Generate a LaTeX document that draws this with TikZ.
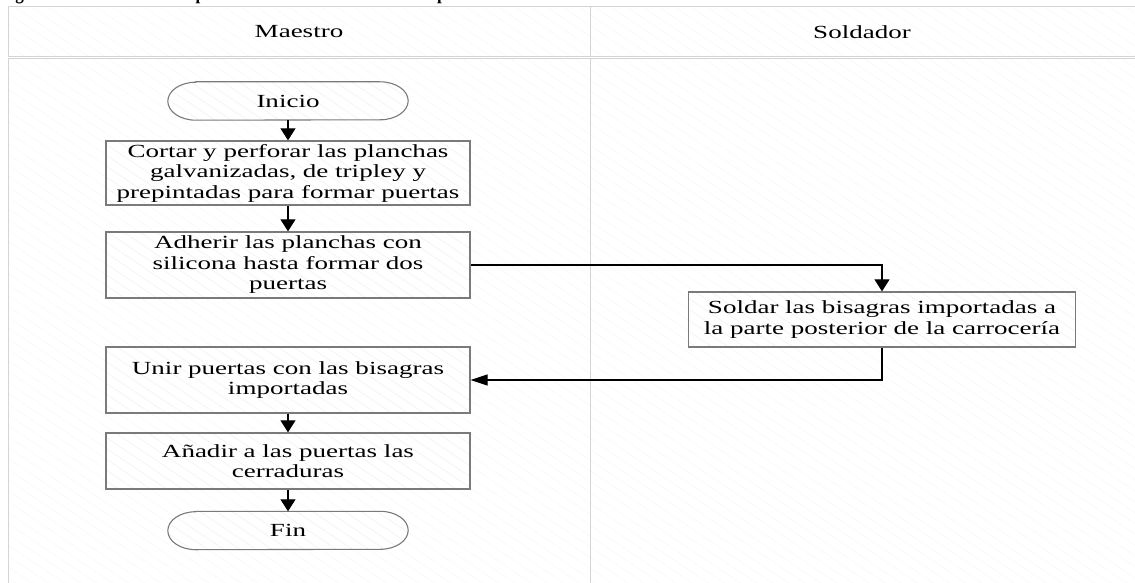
\documentclass[tikz,border=0pt]{standalone}
\usepackage{fontspec}
\setmainfont{Liberation Serif}[FakeStretch=1.46]
\newfontfamily\titlefont{Liberation Serif}[FakeStretch=0.85]
\usetikzlibrary{arrows.meta,patterns.meta,positioning}

\definecolor{laneline}{HTML}{D4D4D4}
\definecolor{boxline}{HTML}{7A7A7A}

\tikzset{
  hatch/.style={pattern={Lines[angle=-34,distance=9pt,line width=0.5pt]}, pattern color=#1},
  lane/.style={draw=laneline, line width=1pt, hatch=black!3},
  lanetitle/.style={inner sep=0pt, font=\fontsize{18.5}{20.5}\selectfont},
  stepbox/.style={draw=boxline, line width=1.3pt, preaction={fill=white}, hatch=black!6,
    minimum width=364pt, align=center, inner sep=0pt,
    font=\fontsize{18.5}{20.5}\selectfont},
  term/.style={minimum width=240pt, minimum height=38pt, inner sep=0pt,
    font=\fontsize{18.5}{20.5}\selectfont},
  termline/.style={draw=boxline, line width=1.1pt, preaction={fill=white}, hatch=black!6},
  conn/.style={draw=black, line width=1.1pt},
  varrow/.style={-{Triangle[width=15pt,length=12pt]}},
  harrow/.style={-{Triangle[width=11pt,length=17pt]}},
}

% rounded terminator outline around a named node
\newcommand{\terminator}[1]{%
  \path[termline] ([xshift=28pt]#1.north west) -- ([xshift=-28pt]#1.north east)
    arc[start angle=-90,end angle=90,x radius=28,y radius=19]
    -- ([xshift=28pt]#1.south west)
    arc[start angle=90,end angle=270,x radius=28,y radius=19] -- cycle;}

\begin{document}
\begin{tikzpicture}[x=1pt,y=-1pt]
\useasboundingbox (0,0) rectangle (1135,583);
\clip (0,0) rectangle (1135,583);

% caption above the pool (only its lowest part lies on the page)
\node[anchor=base west, inner sep=0pt, font=\titlefont\bfseries\fontsize{20}{20}\selectfont]
  (titulo) at (0,-0.5) {Figura 14. Actividades del proceso de fabricación de las dos puertas};

% swimlane headers
\path[lane] (8,7) rectangle (590,57);
\path[lane] (590,7) rectangle (1150,57);
\node[lanetitle] (hmaestro) at (299,32) {Maestro};
\node[lanetitle] (hsoldador) at (862,32) {Soldador};

% swimlane bodies
\path[lane] (8,59) rectangle (590,600);
\path[lane] (590,59) rectangle (1150,600);

% Maestro lane
\node[term] (inicio) at (288,101) {};
\terminator{inicio}
\node[term] at (inicio) {Inicio};

\node[stepbox, minimum height=64pt] (cortar) at (288,173)
  {Cortar y perforar las planchas\\galvanizadas, de tripley y\\prepintadas para formar puertas};
\node[stepbox, minimum height=66pt] (adherir) at (288,265)
  {Adherir las planchas con\\silicona hasta formar dos\\puertas};
\node[stepbox, minimum height=66pt] (unir) at (288,380)
  {Unir puertas con las bisagras\\importadas};
\node[stepbox, minimum height=56pt] (anadir) at (288,461)
  {Añadir a las puertas las\\cerraduras};

\node[term] (fin) at (288,530.5) {};
\terminator{fin}
\node[term] at (fin) {Fin};

% Soldador lane
\node[stepbox, minimum width=387pt, minimum height=55pt] (soldar) at (882,319.5)
  {Soldar las bisagras importadas a\\la parte posterior de la carrocería};

% flow
\draw[conn,varrow] (inicio) -- (cortar);
\draw[conn,varrow] (cortar) -- (adherir);
\draw[conn,varrow] (adherir.east) -| (soldar.north);
\draw[conn,harrow] (soldar.south) |- (unir.east);
\draw[conn,varrow] (unir) -- (anadir);
\draw[conn,varrow] (anadir) -- (fin.north);
\end{tikzpicture}
\end{document}
